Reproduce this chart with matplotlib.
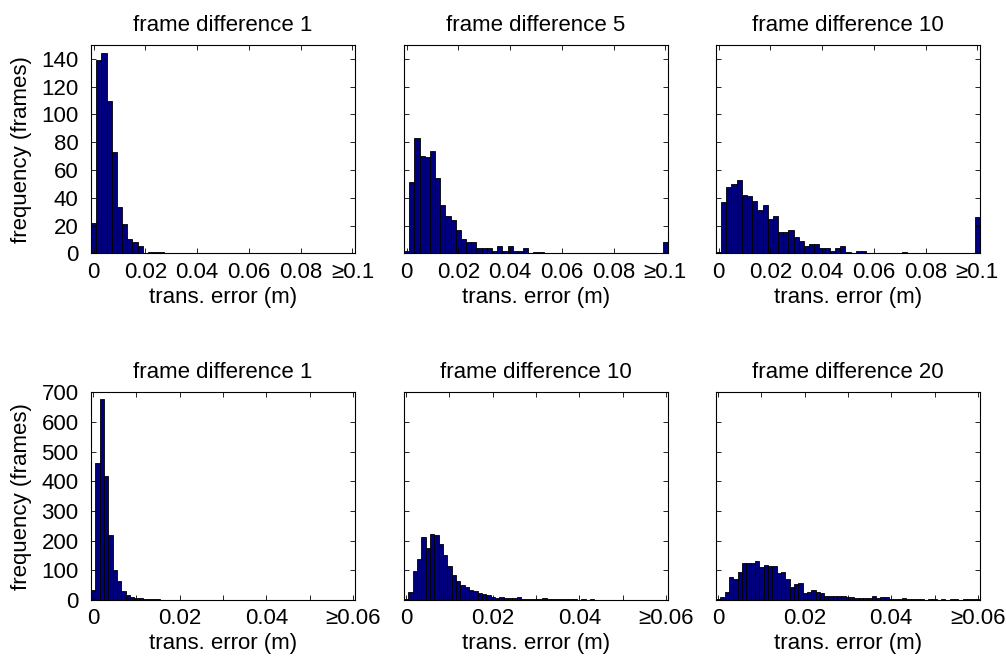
import numpy as np
import matplotlib
matplotlib.use('Agg')
import matplotlib.pyplot as plt

plt.rcParams['font.family'] = ['Liberation Sans', 'DejaVu Sans']
plt.rcParams['font.size'] = 16

# histogram counts (last bin is the overflow bin)
top_fd1 = [22, 139, 144, 110, 73, 33, 21, 10, 8, 5,
           0, 1, 1, 1, 0, 0, 0, 0, 0, 0,
           0, 0, 0, 0, 0, 0, 0, 0, 0, 0,
           0, 0, 0, 0, 0, 0, 0, 0, 0, 0,
           0, 0, 0, 0, 0, 0, 0, 0, 0, 0,
           0]
top_fd5 = [2, 51, 83, 70, 69, 74, 54, 35, 27, 24,
           17, 10, 8, 8, 4, 4, 4, 2, 5, 2,
           5, 2, 2, 4, 0, 1, 1, 0, 0, 0,
           0, 0, 0, 0, 0, 0, 0, 0, 0, 0,
           0, 0, 0, 0, 0, 0, 0, 0, 0, 0,
           8]
top_fd10 = [1, 37, 48, 50, 53, 42, 41, 38, 31, 35,
            25, 27, 15, 15, 17, 12, 9, 5, 7, 7,
            4, 4, 2, 4, 5, 1, 0, 2, 2, 0,
            0, 0, 0, 0, 0, 0, 1, 0, 0, 0,
            0, 0, 0, 0, 0, 0, 0, 0, 0, 0,
            26]
bot_fd1 = [34, 461, 677, 419, 219, 101, 64, 30, 17, 10,
           6, 8, 4, 2, 4, 2, 1, 1, 0, 1,
           0, 0, 1, 0, 0, 0, 0, 0, 0, 0,
           0, 0, 0, 0, 0, 0, 0, 0, 0, 0,
           0, 0, 0, 0, 0, 0, 0, 0, 0, 0,
           0, 0, 0, 0, 0, 0, 0, 0, 0, 0,
           0]
bot_fd10 = [3, 28, 99, 138, 211, 174, 221, 220, 188, 152,
            113, 84, 65, 51, 43, 34, 30, 25, 21, 18,
            11, 8, 9, 7, 7, 8, 9, 4, 4, 2,
            3, 4, 7, 4, 3, 2, 2, 4, 2, 2,
            1, 3, 1, 2, 1, 1, 1, 0, 1, 1,
            1, 0, 1, 0, 0, 1, 0, 0, 0, 0,
            1]
bot_fd20 = [3, 11, 27, 79, 71, 93, 126, 126, 124, 133,
            112, 118, 116, 115, 92, 94, 70, 45, 54, 56,
            25, 28, 33, 28, 25, 13, 13, 12, 12, 12,
            9, 9, 6, 6, 6, 5, 12, 6, 9, 9,
            4, 2, 4, 7, 3, 2, 2, 3, 1, 2,
            2, 1, 2, 1, 2, 2, 1, 2, 2, 2,
            4]

top_titles = ['frame difference 1', 'frame difference 5', 'frame difference 10']
bot_titles = ['frame difference 1', 'frame difference 10', 'frame difference 20']
top_xlabels = ['0', '0.02', '0.04', '0.06', '0.08', '\u22650.1']
bot_xlabels = ['0', '', '0.02', '', '0.04', '', '\u22650.06']

top_bin = 0.002
bot_bin = 0.001
top_centers = np.arange(len(top_fd1)) * top_bin
bot_centers = np.arange(len(bot_fd1)) * bot_bin

fig = plt.figure(figsize=(10.06, 6.62), dpi=100)

lefts = [0.0905, 0.4016, 0.7117]
w = 0.2624
top_row = [top_fd1, top_fd5, top_fd10]
bot_row = [bot_fd1, bot_fd10, bot_fd20]


def style(ax):
    ax.tick_params(direction='in', length=3.5, width=0.6, top=True, right=True,
                   labelsize=16)
    ax.tick_params(axis='x', pad=6)
    ax.tick_params(axis='y', pad=9)
    for s in ax.spines.values():
        s.set_linewidth(0.8)


for i in range(3):
    ax = fig.add_axes([lefts[i], 0.6174, w, 0.3147])
    ax.bar(top_centers, top_row[i], width=top_bin, color='#00007f',
           edgecolor='black', linewidth=0.6)
    ax.set_xlim(-top_bin / 2, 0.1 + top_bin / 2)
    ax.set_ylim(0, 150)
    ax.set_xticks(np.arange(0, 0.1001, 0.02))
    ax.set_xticklabels(top_xlabels)
    ax.set_yticks(np.arange(0, 141, 20))
    if i > 0:
        ax.set_yticklabels([])
    else:
        ax.set_ylabel('frequency (frames)', labelpad=7)
    ax.set_title(top_titles[i], fontsize=16, pad=10)
    ax.set_xlabel('trans. error (m)', labelpad=3)
    style(ax)

for i in range(3):
    ax = fig.add_axes([lefts[i], 0.0937, w, 0.3137])
    ax.bar(bot_centers, bot_row[i], width=bot_bin, color='#00007f',
           edgecolor='black', linewidth=0.6)
    ax.set_xlim(-bot_bin / 2, 0.06 + bot_bin / 2)
    ax.set_ylim(0, 700)
    ax.set_xticks(np.arange(0, 0.0601, 0.01))
    ax.set_xticklabels(bot_xlabels)
    ax.set_yticks(np.arange(0, 701, 100))
    if i > 0:
        ax.set_yticklabels([])
    else:
        ax.set_ylabel('frequency (frames)', labelpad=7)
    ax.set_title(bot_titles[i], fontsize=16, pad=10)
    ax.set_xlabel('trans. error (m)', labelpad=3)
    style(ax)

fig.savefig('out.png', dpi=100)
